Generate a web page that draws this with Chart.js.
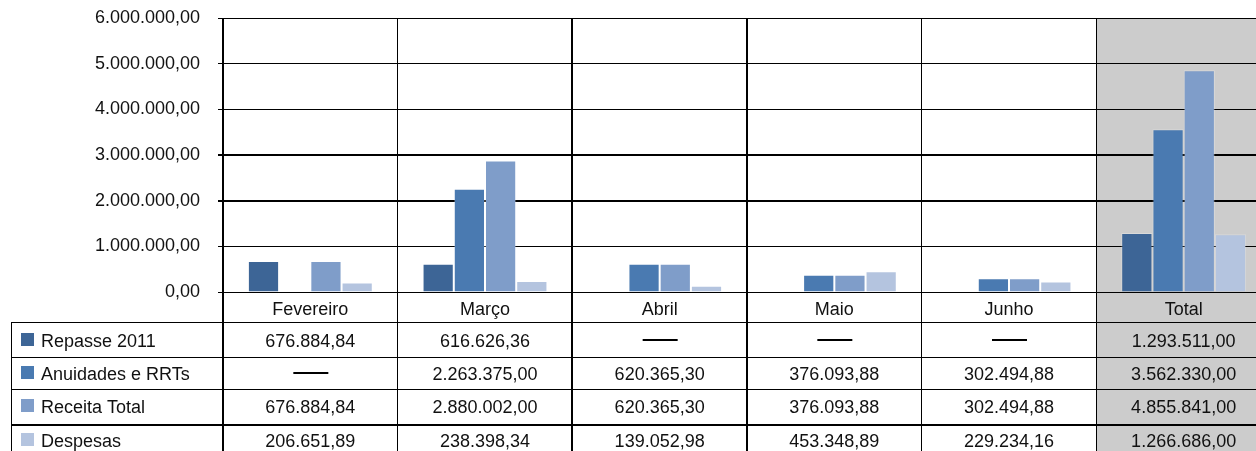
<!DOCTYPE html>
<html>
<head>
<meta charset="utf-8">
<script src="https://cdn.jsdelivr.net/npm/chart.js@4.4.1/dist/chart.umd.min.js"></script>
<style>
  html, body { margin: 0; padding: 0; background: #fff; overflow: hidden; }
  #wrap { width: 1256px; height: 451px; overflow: hidden; }
</style>
</head>
<body>
<div id="wrap"><canvas id="myChart" width="1271" height="451"></canvas></div>
<script>
// categorias (meses + total)
var meses = ['Fevereiro', 'Março', 'Abril', 'Maio', 'Junho', 'Total'];

var repasse = [676884.84, 616626.36, null, null, null, 1293511.00];
var anuidades = [null, 2263375.00, 620365.30, 376093.88, 302494.88, 3562330.00];
var receita = [676884.84, 2880002.00, 620365.30, 376093.88, 302494.88, 4855841.00];
var despesas = [206651.89, 238398.34, 139052.98, 453348.89, 229234.16, 1266686.00];

var nomes = ['Repasse 2011', 'Anuidades e RRTs', 'Receita Total', 'Despesas'];
var cores = ['#3d6596', '#4a7ab1', '#7f9dc9', '#b4c4df'];

// eixo y
var yMax = 6000000;
var yPasso = 1000000;

Chart.defaults.font.family = '"Liberation Sans", Arial, sans-serif';
Chart.defaults.font.size = 18;
Chart.defaults.color = '#111';

// formato 1.234.567,89
function fmt(v) {
  var s = v.toFixed(2).split('.');
  return s[0].replace(/\B(?=(\d{3})+(?!\d))/g, '.') + ',' + s[1];
}

var linhasTabela = [322, 357, 389, 425];   // linhas horizontais da tabela
var larguraTabela = [1, 1, 1, 2];
var baseTexto = [347, 380, 413, 447];      // baseline de cada linha
var larguraVert = [2, 1, 2, 2, 1, 1];       // linhas verticais

function limites(x, area) {
  var b = [area.left];
  for (var i = 0; i < meses.length - 1; i++) {
    b.push((x.getPixelForValue(i) + x.getPixelForValue(i + 1)) / 2);
  }
  b.push(area.right);
  return b;
}

var fundoTotal = {
  id: 'fundoTotal',
  beforeDraw: function (chart) {
    var ctx = chart.ctx, a = chart.chartArea;
    var b = limites(chart.scales.x, a);
    ctx.save();
    ctx.fillStyle = '#cccccc';
    ctx.fillRect(b[meses.length - 1], a.top, a.right - b[meses.length - 1], chart.height - a.top);
    ctx.restore();
  }
};

var tabela = {
  id: 'tabela',
  afterDraw: function (chart) {
    var ctx = chart.ctx, a = chart.chartArea, x = chart.scales.x;
    var b = limites(x, a);
    var h = chart.height;
    ctx.save();
    ctx.strokeStyle = '#000';

    // verticais
    for (var i = 0; i < b.length - 1; i++) {
      ctx.lineWidth = larguraVert[i];
      var px = larguraVert[i] % 2 ? Math.floor(b[i]) + 0.5 : Math.round(b[i]);
      ctx.beginPath();
      ctx.moveTo(px, a.top);
      ctx.lineTo(px, h);
      ctx.stroke();
    }
    // borda esquerda da legenda
    ctx.lineWidth = 1;
    ctx.beginPath();
    ctx.moveTo(11.5, linhasTabela[0]);
    ctx.lineTo(11.5, h);
    ctx.stroke();

    // horizontais
    for (var j = 0; j < linhasTabela.length; j++) {
      ctx.lineWidth = larguraTabela[j];
      var py = larguraTabela[j] % 2 ? linhasTabela[j] + 0.5 : linhasTabela[j];
      ctx.beginPath();
      ctx.moveTo(11, py);
      ctx.lineTo(a.right, py);
      ctx.stroke();
    }

    ctx.font = '18px "Liberation Sans", Arial, sans-serif';
    ctx.fillStyle = '#111';
    ctx.textBaseline = 'alphabetic';

    // nomes dos meses
    ctx.textAlign = 'center';
    for (var k = 0; k < meses.length; k++) {
      ctx.fillText(meses[k], x.getPixelForValue(k), 315);
    }

    // linhas com valores
    var series = chart.data.datasets;
    for (var r = 0; r < series.length; r++) {
      ctx.fillStyle = series[r].backgroundColor;
      ctx.fillRect(21, baseTexto[r] - 14, 13, 13);
      ctx.fillStyle = '#111';
      ctx.textAlign = 'left';
      ctx.fillText(series[r].label, 41, baseTexto[r]);
      ctx.textAlign = 'center';
      for (var c = 0; c < meses.length; c++) {
        var v = series[r].data[c];
        var cx = x.getPixelForValue(c);
        if (v == null) {
          ctx.lineWidth = 2;
          ctx.beginPath();
          ctx.moveTo(cx - 17, baseTexto[r] - 7);
          ctx.lineTo(cx + 18, baseTexto[r] - 7);
          ctx.stroke();
        } else {
          ctx.fillText(fmt(v), cx, baseTexto[r]);
        }
      }
    }
    ctx.restore();
  }
};

function serie(i, dados) {
  return {
    label: nomes[i],
    data: dados,
    backgroundColor: cores[i],
    borderColor: 'rgba(255,255,255,0.25)',
    borderWidth: 1,
    barPercentage: 1,
    categoryPercentage: 0.715
  };
}

new Chart('myChart', {
  type: 'bar',
  data: {
    labels: meses,
    datasets: [
      serie(0, repasse),
      serie(1, anuidades),
      serie(2, receita),
      serie(3, despesas)
    ]
  },
  options: {
    responsive: false,
    animation: false,
    layout: { padding: { top: 18, left: 0, right: 0, bottom: 0 } },
    plugins: {
      legend: { display: false },
      tooltip: { enabled: false }
    },
    scales: {
      x: {
        grid: { display: false },
        border: { display: false },
        ticks: { display: false },
        afterFit: function (s) { s.height = 159; s.paddingLeft = 0; s.paddingRight = 0; }
      },
      y: {
        min: 0,
        max: yMax,
        border: { display: false },
        grid: {
          color: '#000',
          tickLength: 5,
          lineWidth: function (c) {
            if (c.tick && (c.tick.value == 2000000 || c.tick.value == 3000000)) return 2;
            return 1;
          }
        },
        ticks: {
          stepSize: yPasso,
          padding: 18,
          color: '#111',
          callback: function (v) { return fmt(v); }
        },
        afterFit: function (s) { s.width = 223; s.paddingTop = 0; s.paddingBottom = 0; }
      }
    }
  },
  plugins: [fundoTotal, tabela]
});
</script>
</body>
</html>
